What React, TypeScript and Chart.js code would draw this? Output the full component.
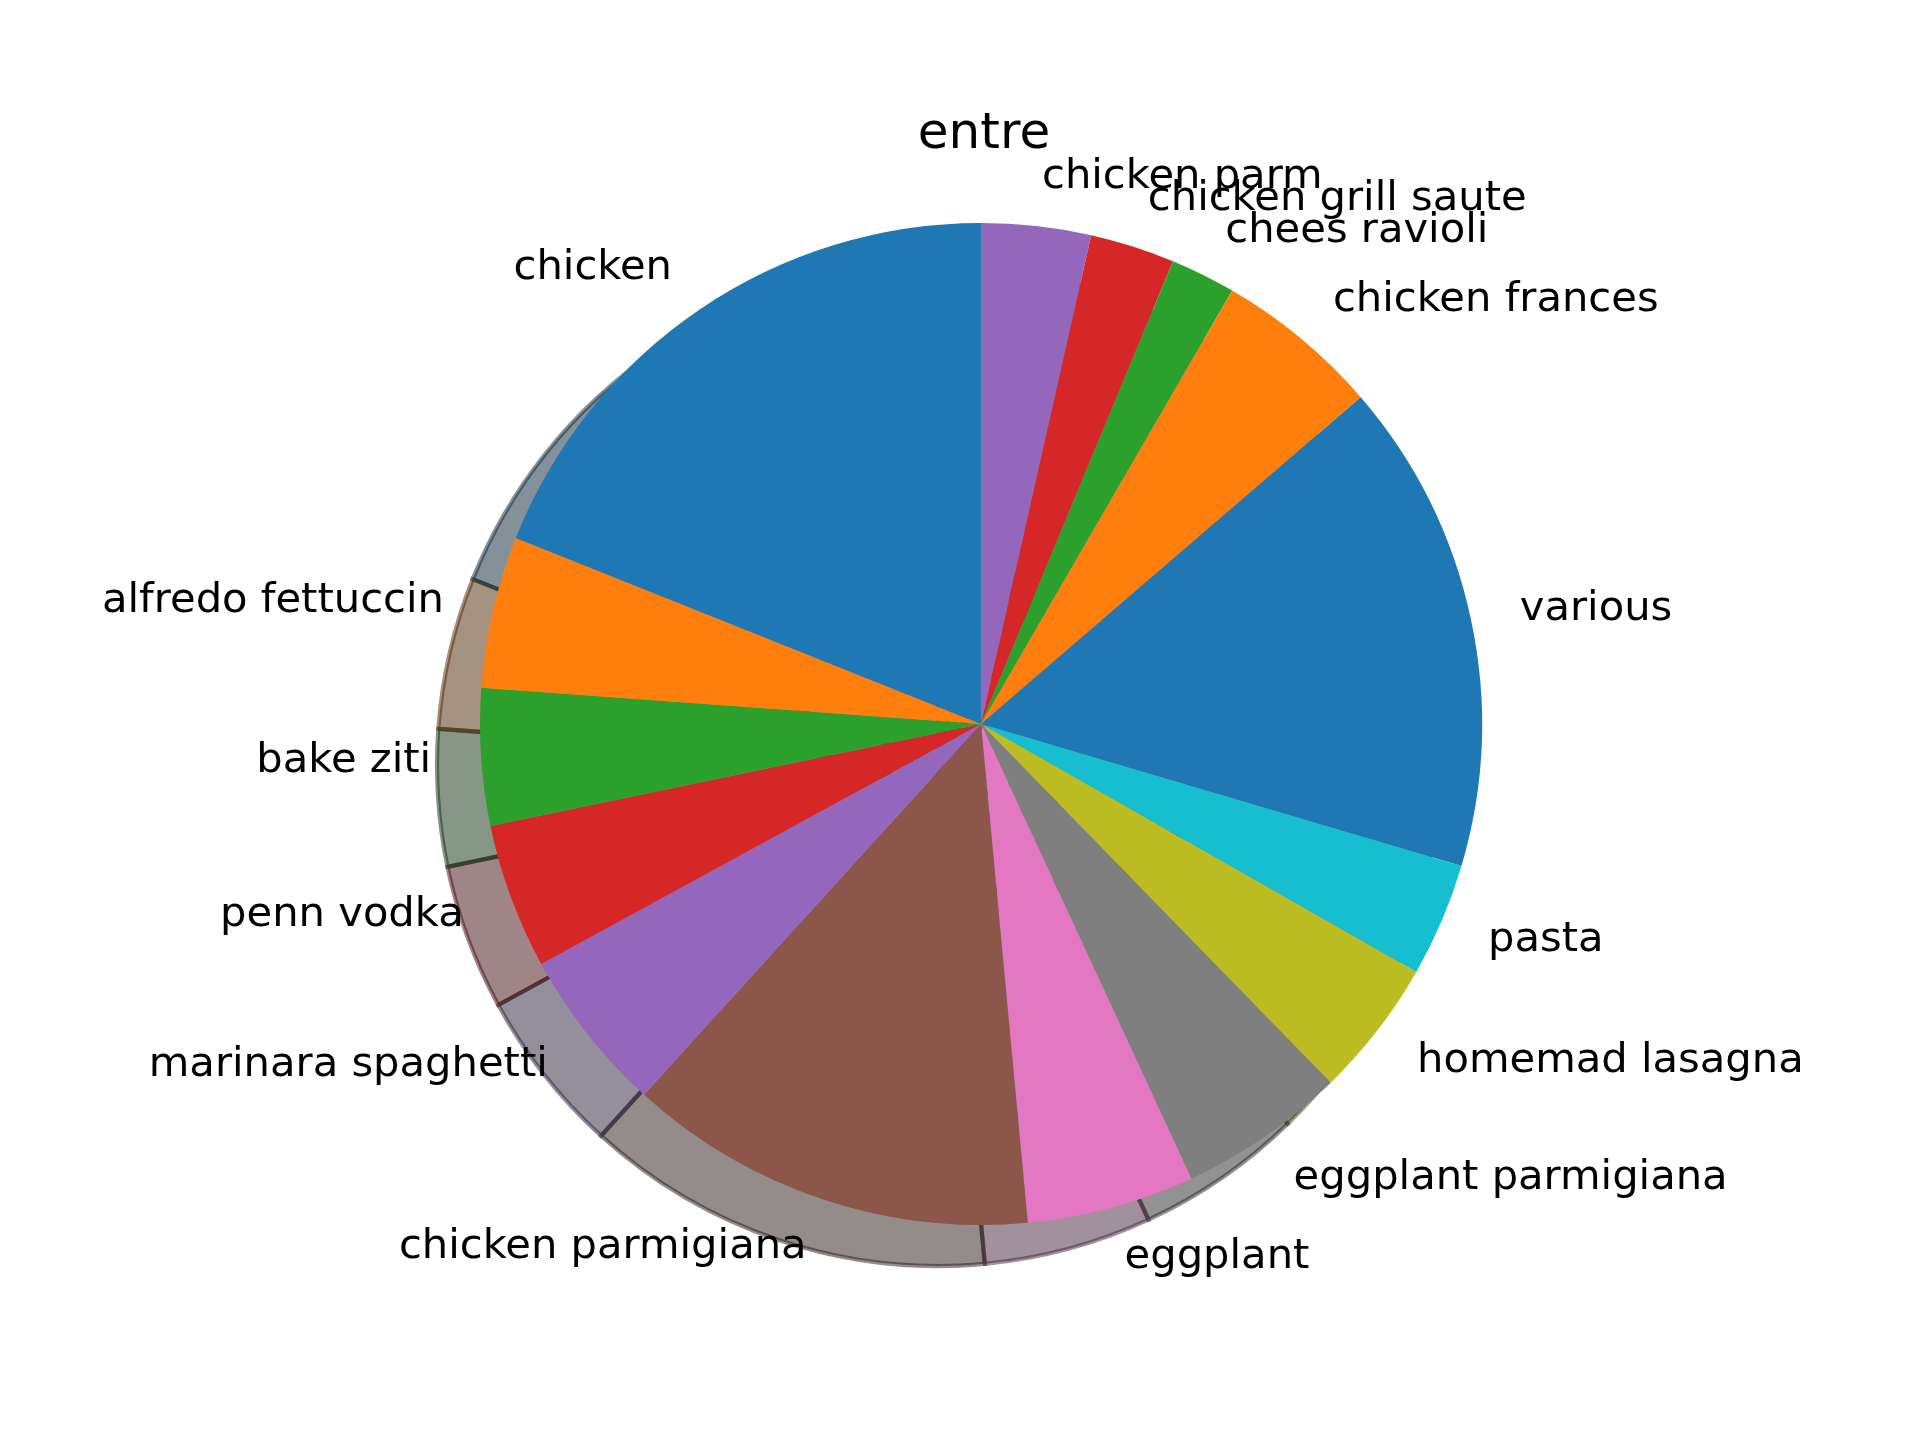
import React, { useEffect, useRef } from "react";
import { Chart, registerables } from "chart.js";

Chart.register(...registerables);

// Slices listed clockwise starting at 12 o'clock
const categories = [
  "chicken parm",
  "chicken grill saute",
  "chees ravioli",
  "chicken frances",
  "various",
  "pasta",
  "homemad lasagna",
  "eggplant parmigiana",
  "eggplant",
  "chicken parmigiana",
  "marinara spaghetti",
  "penn vodka",
  "bake ziti",
  "alfredo fettuccin",
  "chicken",
];
const values = [3.53, 2.73, 2.1, 5.33, 15.88, 3.67, 4.46, 5.4, 5.41, 13.23, 5.31, 4.69, 4.41, 4.9, 18.95];
const colors = [
  "#9467bd",
  "#d62728",
  "#2ca02c",
  "#ff7f0e",
  "#1f77b4",
  "#17becf",
  "#bcbd22",
  "#7f7f7f",
  "#e377c2",
  "#8c564b",
  "#9467bd",
  "#d62728",
  "#2ca02c",
  "#ff7f0e",
  "#1f77b4",
];
const titleText = "entre";

const FONT = "'DejaVu Sans', sans-serif";
const LABEL_SIZE = 41.67;
const TITLE_SIZE = 50;
const SHADOW_DX = -43;
const SHADOW_DY = 41;

function hexToRgb(h: string) {
  const n = parseInt(h.slice(1), 16);
  return [(n >> 16) & 255, (n >> 8) & 255, n & 255];
}

const shadowPlugin = {
  id: "pieShadow",
  beforeDatasetsDraw(chart: any) {
    const ctx = chart.ctx;
    const meta = chart.getDatasetMeta(0);
    ctx.save();
    meta.data.forEach((arc: any, i: number) => {
      const { x, y, startAngle, endAngle, outerRadius } = arc.getProps(
        ["x", "y", "startAngle", "endAngle", "outerRadius"],
        true
      );
      const [r, g, b] = hexToRgb(colors[i]);
      const col = `rgba(${Math.round(r * 0.3)},${Math.round(g * 0.3)},${Math.round(b * 0.3)},0.5)`;
      const sx = x + SHADOW_DX;
      const sy = y + SHADOW_DY;
      ctx.beginPath();
      ctx.moveTo(sx, sy);
      ctx.arc(sx, sy, outerRadius, startAngle, endAngle);
      ctx.closePath();
      ctx.fillStyle = col;
      ctx.fill();
      ctx.lineWidth = 4.17;
      ctx.lineJoin = "miter";
      ctx.strokeStyle = col;
      ctx.stroke();
    });
    ctx.restore();
  },
};

const labelPlugin = {
  id: "pieLabels",
  afterDatasetsDraw(chart: any) {
    const ctx = chart.ctx;
    const meta = chart.getDatasetMeta(0);
    ctx.save();
    ctx.fillStyle = "#000";
    ctx.font = `${LABEL_SIZE}px ${FONT}`;
    ctx.textBaseline = "alphabetic";
    meta.data.forEach((arc: any, i: number) => {
      const { x, y, startAngle, endAngle, outerRadius } = arc.getProps(
        ["x", "y", "startAngle", "endAngle", "outerRadius"],
        true
      );
      const mid = (startAngle + endAngle) / 2;
      const tx = x + 1.1 * outerRadius * Math.cos(mid);
      const ty = y + 1.1 * outerRadius * Math.sin(mid);
      ctx.textAlign = tx > x ? "left" : "right";
      ctx.fillText(categories[i], tx, ty + 0.276 * LABEL_SIZE);
    });
    ctx.font = `${TITLE_SIZE}px ${FONT}`;
    ctx.textAlign = "center";
    ctx.fillText(titleText, 984, 148);
    ctx.restore();
  },
};

export default function App() {
  const ref = useRef<HTMLCanvasElement | null>(null);
  useEffect(() => {
    if (!ref.current) return;
    const chart = new Chart(ref.current, {
      type: "pie",
      data: {
        labels: categories,
        datasets: [
          {
            data: values,
            backgroundColor: colors,
            borderWidth: 0,
          },
        ],
      },
      options: {
        responsive: false,
        animation: false,
        devicePixelRatio: 1,
        radius: 501,
        rotation: 0,
        layout: { padding: { left: 200, right: 158, top: 150, bottom: 142 } },
        plugins: {
          legend: { display: false },
          tooltip: { enabled: false },
          title: { display: false },
        },
      } as any,
      plugins: [shadowPlugin, labelPlugin],
    });
    return () => chart.destroy();
  }, []);
  return (
    <div style={{ position: "absolute", left: 0, top: 0, width: 1920, height: 1440, background: "#fff" }}>
      <canvas ref={ref} width={1920} height={1440} style={{ display: "block" }} />
    </div>
  );
}
